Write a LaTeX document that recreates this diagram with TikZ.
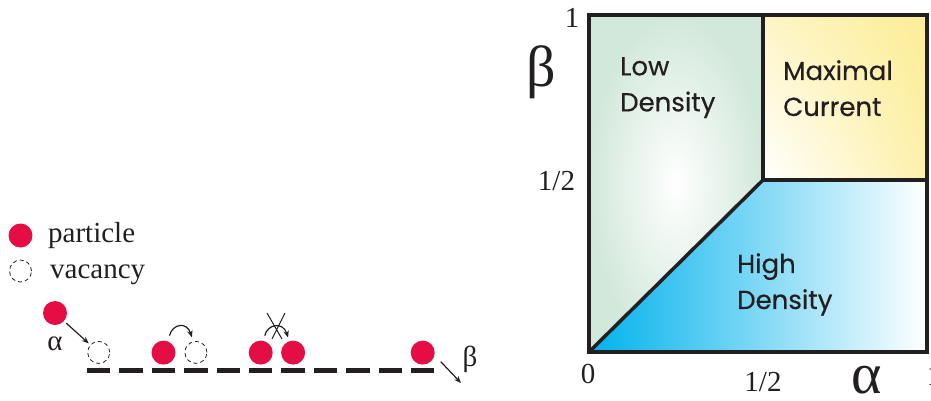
\documentclass[tikz,border=0pt]{standalone}
\usepackage{fontspec}
\setmainfont{Liberation Serif}
\newfontfamily\regionfont[FakeBold=0.4]{Poppins}
\usetikzlibrary{arrows.meta,positioning,shadings}
\definecolor{ptred}{RGB}{228,14,68}
\definecolor{ink}{RGB}{35,31,32}
\definecolor{ldgreen}{RGB}{210,232,218}
\definecolor{mcyellow}{RGB}{252,237,150}
\definecolor{hdcyan}{RGB}{0,178,236}

\begin{document}
\begin{tikzpicture}[x=1pt,y=-1pt,>={Stealth[length=7pt,width=5.5pt]},
  every node/.style={text=ink,inner sep=0pt},
  particle/.style={circle,fill=ptred,minimum size=24pt},
  vacancy/.style={circle,draw=ink,line width=0.8pt,dash pattern=on 4pt off 3pt,minimum size=22pt},
  site/.style={fill=ink,minimum width=23.5pt,minimum height=5pt},
  hop/.style={->,draw=ink,line width=1.2pt},
  serif/.style={font=\fontsize{29}{32}\selectfont,anchor=base},
  greek/.style={font=\fontsize{58}{60}\selectfont,anchor=base},
  region/.style={font=\regionfont\fontsize{26}{36}\selectfont,align=left,anchor=north west},
  wall/.style={draw=ink,line width=3.5pt,line join=miter}]
\useasboundingbox (0,0) rectangle (931,400);
% legend
\node[particle] (keyp) at (20.5,235.5){};\node[serif,anchor=base west] (keyptxt) at (48,242){particle};
\node[vacancy] (keyv) at (20.5,271){};\node[serif,anchor=base west] (keyvtxt) at (50,278){vacancy};
% lattice
\foreach \i in {0,...,10} \node[site] (s\i) at (98.7+32.4*\i,370){};
\node[vacancy,above=3.5pt of s0] (v0){};\node[particle,above=2.5pt of s2] (p2){};\node[vacancy,above=3.5pt of s3] (v3){};
\node[particle,above=2.5pt of s5] (p5){};\node[particle,above=2.5pt of s6] (p6){};\node[particle,above=2.5pt of s10] (p10){};
\node[particle] (pin) at (55,313){};\node[serif] (alpha) at (55,350){α};
\draw[hop,shorten <=3pt,shorten >=2pt] (pin)--(v0);
\draw[hop] ([shift={(6,-17)}]p2.center) .. controls +(3,-12) and +(-5,-16) .. ([shift={(-4,-15)}]v3.center);
\draw[hop] ([shift={(4,-17)}]p5.center) .. controls +(3,-12) and +(-5,-16) .. ([shift={(-5,-15)}]p6.center);
\draw[ink,line width=1pt] (267,313)--(282,339) (285,313)--(272,339);
\coordinate (exit) at (461,383);\draw[hop] ([shift={(18,9)}]p10.center)--(exit);
\node[serif] (beta) at (470,366){β};
% phase diagram
\coordinate (O) at (589,352);\coordinate (A) at (927,352);\coordinate (T) at (927,15);\coordinate (L) at (589,15);
\coordinate (M) at (763,15);\coordinate (H) at (763,180);\coordinate (R) at (927,180);
\shade[inner color=white,outer color=ldgreen] (L)--(M)--(H)--(O)--cycle;
\shade[upper left=mcyellow!55!white,upper right=mcyellow,lower left=white,lower right=mcyellow!80!white] (H) rectangle (T);
\shade[left color=hdcyan,middle color=hdcyan!75!white,right color=white] (O)--(H)--(R)--(A)--cycle;
\draw[wall] (O) rectangle (T);\draw[wall] (M)--(H)--(R);\draw[wall] (O)--(H);
\node[region] (low) at (620,57){Low\\Density};
\node[region] (max) at (783,60){Maximal\\Current};
\node[region] (high) at (737,253){High\\Density};
\node[serif] (ytop) at (572,27){1};\node[serif] (yhalf) at (556.5,190){1/2};
\node[serif] (zero) at (588,383){0};\node[serif] (xhalf) at (763,391){1/2};\node[serif] (xtop) at (934,385){1};
\node[greek] (betabig) at (541,86){β};\node[greek] (alphabig) at (867,393){α};
\end{tikzpicture}
\end{document}
